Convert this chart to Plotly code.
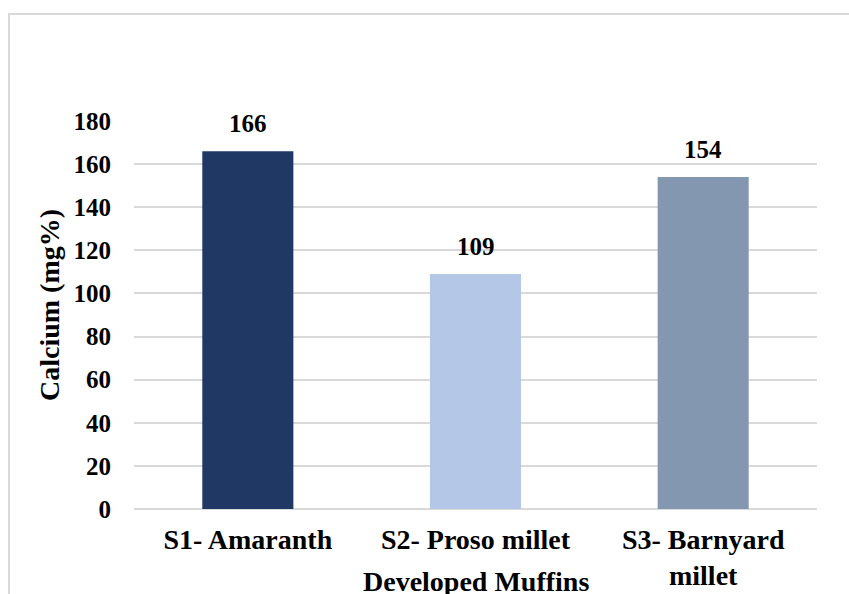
import plotly.graph_objects as go

# Calcium content of the developed muffin samples
samples = ["S1- Amaranth", "S2- Proso millet", "S3- Barnyard<br>millet"]
calcium = [166, 109, 154]
bar_colors = ["#203864", "#B4C7E7", "#8497B0"]
y_ticks = [0, 20, 40, 60, 80, 100, 120, 140, 160, 180]

FONT = "Liberation Serif"
W, H = 849, 594
L, R, T, B = 134, 32, 121, 85
pw, ph = W - L - R, H - T - B


def px_x(x):
    return (x - L) / pw


def px_y(y):
    return ((H - B) - y) / ph


fig = go.Figure(
    go.Bar(
        x=samples,
        y=calcium,
        marker=dict(color=bar_colors, line=dict(width=0)),
        hoverinfo="x+y",
    )
)

# value labels sitting above each bar
for s, v in zip(samples, calcium):
    fig.add_annotation(
        x=s, y=v, text=f"<b>{v}</b>", showarrow=False,
        yanchor="bottom", yshift=12,
        font=dict(family=FONT, size=25, color="#000000"),
    )

# x-axis title under the category labels
fig.add_annotation(
    xref="paper", yref="paper", x=px_x(476), y=px_y(581),
    text="<b>Developed Muffins</b>", showarrow=False,
    xanchor="center", yanchor="middle",
    font=dict(family=FONT, size=28, color="#000000"),
)

# y-axis title
fig.add_annotation(
    xref="paper", yref="paper", x=px_x(49), y=px_y(305),
    text="<b>Calcium (mg%)</b>", showarrow=False, textangle=-90,
    xanchor="center", yanchor="middle",
    font=dict(family=FONT, size=28, color="#000000"),
)

# light outer frame of the chart area
fig.add_shape(
    type="rect", xref="paper", yref="paper",
    x0=px_x(9), x1=px_x(W + 20),
    y0=px_y(H + 20), y1=px_y(14),
    line=dict(color="#D9D9D9", width=2), fillcolor="rgba(0,0,0,0)",
    layer="below",
)

fig.update_layout(
    width=W, height=H,
    margin=dict(l=L, r=R, t=T, b=B, autoexpand=False),
    paper_bgcolor="white", plot_bgcolor="white",
    bargap=0.6, showlegend=False,
    font=dict(family=FONT, size=24, color="#000000"),
    xaxis=dict(
        showgrid=False, showline=False, zeroline=False, ticks="",
        tickfont=dict(family=FONT, size=28, color="#000000", weight="bold"),
        ticklabelstandoff=11, automargin=False,
    ),
    yaxis=dict(
        range=[0, 180], tickvals=y_ticks,
        showgrid=True, gridcolor="#D9D9D9", gridwidth=1.5,
        zeroline=True, zerolinecolor="#D9D9D9", zerolinewidth=1.5,
        showline=False, ticks="",
        tickfont=dict(family=FONT, size=25, color="#000000", weight="bold"),
        ticklabelstandoff=22, automargin=False,
    ),
)

fig.write_html("out.html")
